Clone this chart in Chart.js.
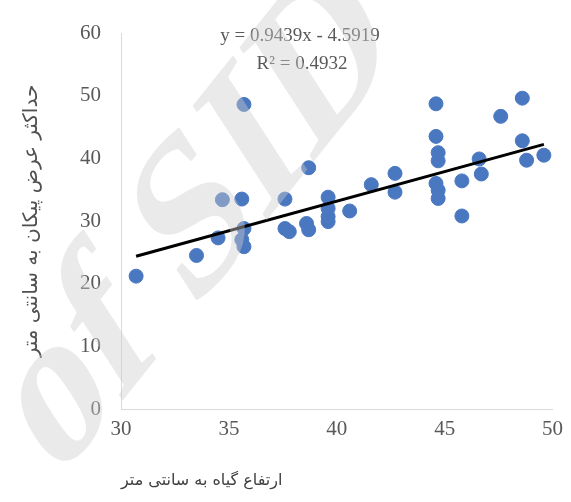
<!DOCTYPE html>
<html>
<head>
<meta charset="utf-8">
<script src="https://cdn.jsdelivr.net/npm/chart.js@4/dist/chart.umd.min.js"></script>
<style>
  html, body { margin: 0; padding: 0; background: #fff; }
  #wrap { width: 571px; height: 502px; }
</style>
</head>
<body>
<div id="wrap"><canvas id="ctxArrow"></canvas></div>
<script>
// plant height (cm) vs max arrow width (cm)
const heights = [30.7, 33.5, 34.5, 34.7, 35.7, 35.6, 35.7, 35.6, 35.7, 37.6, 37.6, 37.8, 38.7, 38.6, 38.7,
  39.6, 39.6, 39.6, 39.6, 40.6, 41.6, 42.7, 42.7, 44.6, 44.6, 44.7, 44.7, 44.6, 44.7, 44.7,
  45.8, 45.8, 46.6, 46.7, 47.6, 48.6, 48.6, 48.8, 49.6];
const widths = [21.2, 24.5, 27.3, 33.4, 48.6, 33.5, 28.8, 27.0, 25.9, 33.5, 28.8, 28.3, 38.5, 29.6, 28.6,
  33.8, 32.0, 30.7, 29.9, 31.6, 35.8, 37.6, 34.6, 48.7, 43.5, 40.9, 39.6, 36.0, 34.9, 33.6,
  36.4, 30.8, 39.9, 37.5, 46.7, 49.6, 42.8, 39.7, 40.5];
const slope = 0.9439;
const intercept = -4.5919;
const rSquared = 0.4932;
const xTicks = [30, 35, 40, 45, 50];
const yTicks = [0, 10, 20, 30, 40, 50, 60];
const xTitle = 'ارتفاع گیاه به سانتی متر';
const yTitle = 'حداکثر عرض پیکان به سانتی متر';
const watermark = 'of SID';

var points = heights.map((h, i) => ({ x: h, y: widths[i] }));
var xMin = Math.min(...heights), xMax = Math.max(...heights);
var trend = [xMin, xMax].map(x => ({ x: x, y: slope * x + intercept }));

var labelPlugin = {
  id: 'labels',
  afterDatasetsDraw(chart) {
    var ctx = chart.ctx;
    ctx.save();
    ctx.fillStyle = '#595959';
    ctx.font = '19px "Liberation Serif"';
    ctx.textAlign = 'center';
    ctx.textBaseline = 'middle';
    ctx.fillText('y = ' + slope + 'x - ' + Math.abs(intercept), 300, 36);
    ctx.fillText('R² = ' + rSquared, 302, 64);
    ctx.restore();
  },
  afterDraw(chart) {
    // faint site watermark across the picture (squeezed sideways like the scan)
    var ctx = chart.ctx;
    ctx.save();
    ctx.translate(200, 222);
    ctx.scale(0.72, 1);
    ctx.rotate(-42 * Math.PI / 180);
    ctx.font = 'bold 235px "Liberation Serif"';
    ctx.fillStyle = 'rgba(205,205,205,0.42)';
    ctx.textAlign = 'center';
    ctx.textBaseline = 'middle';
    ctx.fillText(watermark, 0, 0);
    ctx.restore();
  }
};

new Chart(document.getElementById('ctxArrow'), {
  type: 'scatter',
  data: {
    datasets: [{
      label: 'points',
      data: points,
      backgroundColor: '#4a78c0',
      borderColor: '#4a78c0',
      pointRadius: 7,
      pointHoverRadius: 7,
      order: 2
    },
    {
      label: 'trend',
      data: trend,
      showLine: true,
      borderColor: '#000',
      borderWidth: 3,
      pointRadius: 0,
      order: 1
    }]
  },
  options: {
    responsive: true,
    maintainAspectRatio: false,
    animation: false,
    layout: { padding: { left: 17, right: 13, top: 33, bottom: 0 } },
    plugins: { legend: { display: false }, tooltip: { enabled: false } },
    scales: {
      x: {
        min: 30, max: 50,
        afterBuildTicks: s => { s.ticks = xTicks.map(v => ({ value: v })); },
        grid: { display: false, drawTicks: false },
        border: { color: '#d9d9d9', width: 1 },
        ticks: { color: '#595959', font: { family: 'Liberation Serif', size: 21 }, padding: 8 },
        title: { display: true, text: xTitle, align: 'start', color: '#404040', font: { family: 'DejaVu Sans', size: 16 }, padding: { top: 0, bottom: 12 } },
        afterFit: s => { s.height = 93; }
      },
      y: {
        min: 0, max: 60,
        afterBuildTicks: s => { s.ticks = yTicks.map(v => ({ value: v })); },
        grid: { display: false, drawTicks: false },
        border: { color: '#d9d9d9', width: 1 },
        ticks: { color: '#595959', font: { family: 'Liberation Serif', size: 21 }, padding: 20 },
        title: { display: true, text: yTitle, color: '#505050', font: { family: 'DejaVu Sans', size: 20 }, padding: 3 },
        afterFit: s => { s.width = 104; }
      }
    }
  },
  plugins: [labelPlugin]
});
</script>
</body>
</html>
